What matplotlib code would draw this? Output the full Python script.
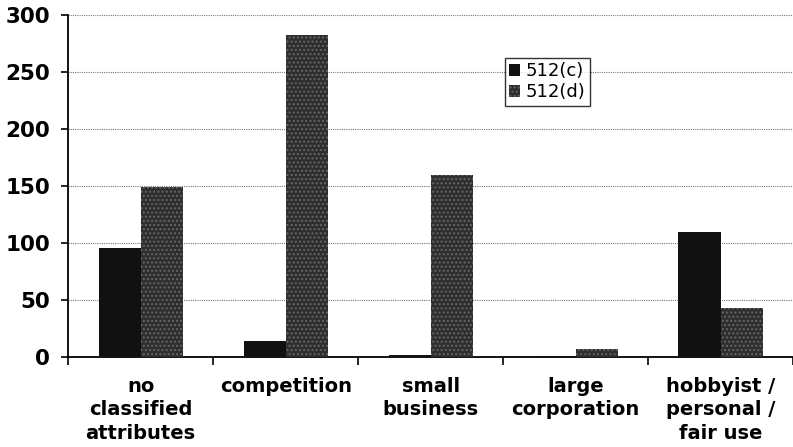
import numpy as np
import matplotlib.pyplot as plt

categories = ["no\nclassified\nattributes", "competition", "small\nbusiness",
              "large\ncorporation", "hobbyist /\npersonal /\nfair use"]
series_names = ["512(c)", "512(d)"]
vals_c = [96, 14, 2, 1, 110]
vals_d = [149, 283, 160, 7, 43]

fig = plt.figure(figsize=(7.93, 4.47), dpi=100)
ax = fig.add_axes([0.086, 0.201, 0.914, 0.765])

x = np.arange(len(categories))
w = 0.29
ax.bar(x - w / 2, vals_c, w, color='#111111', label=series_names[0], zorder=3)
ax.bar(x + w / 2, vals_d, w, color='#2e2e2e', hatch='....', edgecolor='#666666',
       linewidth=0, label=series_names[1], zorder=3)

ax.set_xlim(-0.5, len(categories) - 0.5)
ax.set_ylim(0, 300)
ax.set_yticks(range(0, 301, 50))
ax.yaxis.grid(True, linestyle=(0, (1, 1)), color='#777777', linewidth=0.8, zorder=0)

ax.set_xticks(x)
ax.set_xticklabels(categories, fontsize=14, fontweight='bold', linespacing=1.32)
ax.tick_params(axis='x', which='major', length=0, pad=14)
ax.set_xticks(np.arange(-0.5, len(categories), 1), minor=True)
ax.tick_params(axis='x', which='minor', length=6, width=1.2, direction='out')
ax.tick_params(axis='y', labelsize=15.5, length=5, width=1.2, pad=8)
for t in ax.get_yticklabels():
    t.set_fontweight('bold')

ax.spines['top'].set_visible(False)
ax.spines['right'].set_visible(False)
ax.spines['left'].set_linewidth(1.3)
ax.spines['bottom'].set_linewidth(1.3)

leg = ax.legend(loc='upper left', bbox_to_anchor=(0.602, 0.875), fontsize=13,
                frameon=True, fancybox=False, edgecolor='black',
                handlelength=0.6, handleheight=0.6, handletextpad=0.3,
                borderpad=0.25, labelspacing=0.15, borderaxespad=0)
leg.get_frame().set_linewidth(1.0)

fig.savefig('out.png', dpi=100)
